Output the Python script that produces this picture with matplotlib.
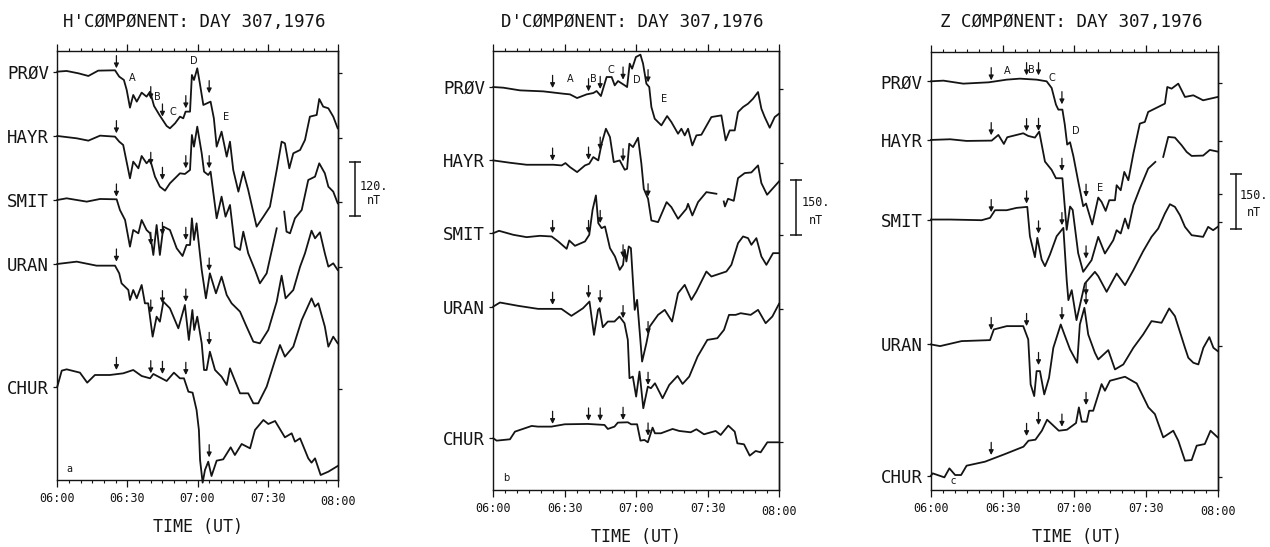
import matplotlib
matplotlib.use('Agg')
import matplotlib.pyplot as plt
import numpy as np

nan = float('nan')

# Time in minutes after 06:00, deflection read off the trace from the station
# baseline. Deflection unit is 1/3 of a picture pixel (rows below use the same unit).
H_PROV_T = [0,4,9,13.3,17.5,24.7,26.5,28.5,29.7,31.1,32.5,34,36.1,38.2,39.7,41.4,43.7,46.8,48.2,50.4,52.5,53.9,54.9,56.8,57.6,58.5,59.9,61,62.5,65.6,67,68.2,70.3,72.5,73.9,75.3,77.5,79.6,81.7,85.3,88.2,91,93.9,96,97.4,99.3,101,103.9,106,108.1,111,112.1,113.8,116,118.1,120]
H_PROV = [0,2,-5,-13,3,4,-15,-25,-55,-108,-70,-90,-63,-75,-60,-103,-130,-163,-170,-155,-135,-140,-120,-120,-10,-25,10,-35,-100,-90,-140,-225,-180,-255,-210,-295,-360,-300,-355,-465,-435,-405,-295,-210,-215,-290,-245,-235,-205,-135,-130,-82,-105,-110,-135,-170]
H_HAYR_T = [0,8.3,13.3,18.3,24.7,26.5,28.2,31.1,32.5,34.7,36.1,38.2,39.7,41.8,43.9,46.1,48.2,52.5,54.6,56.8,57.6,58.5,59.9,61.8,62.8,64.6,65.6,68.2,70.3,72,73.9,76,78.2,79.6,81.7,84.6,86.7,89.6,93.9,94,97,97.1,98.1,99.6,101.7,104.6,107.4,110.3,112.1,114.5,116,118.1,120]
H_HAYR = [0,-7,-14,1,-2,-17,-27,-127,-77,-97,-60,-82,-70,-122,-152,-164,-142,-112,-114,-102,3,-32,28,-52,-107,-117,-107,-247,-182,-242,-207,-332,-342,-287,-352,-402,-442,-412,-277,nan,nan,-227,-287,-292,-247,-222,-132,-122,-82,-112,-152,-167,-202]
H_SMIT_T = [0,4,12.6,18.3,25.4,26.8,29,31.1,32.5,34.7,36.1,38.2,39.7,41.1,42.5,43.9,45.4,48.2,51.1,53.6,55.3,56.8,57.6,58.5,59.6,61.8,63.6,65.3,67.9,70.3,72.5,74.6,78.2,81,83.9,86.7,90.3,93.9,96,97.7,101,103.9,106,108.8,110.3,112.4,114.5,116,118.1,120]
H_SMIT = [0,5,-5,3,2,-30,-60,-140,-90,-100,-60,-90,-100,-165,-75,-165,-80,-90,-145,-168,-135,-135,-55,-120,-70,-210,-295,-220,-280,-230,-285,-310,-335,-380,-425,-430,-390,-305,-227,-295,-270,-200,-160,-92,-115,-97,-160,-200,-190,-210]
H_URAN_T = [0,8.3,16.8,24.7,26.5,27.5,30.4,31.1,32.5,34,36.1,37.5,38.9,40.8,42.5,43.9,45.4,48.2,51.8,54.6,56.3,57.8,58.6,59.9,61.8,62.8,63.9,65.3,67.5,70.3,72.5,73.9,78.2,81.7,83.9,86,89.6,93.2,95.3,97.4,101,104.6,108.8,110.3,111.7,114.5,116,118.1,120]
H_URAN = [0,7,-5,-5,-28,-58,-78,-108,-78,-103,-63,-118,-118,-218,-158,-173,-113,-133,-193,-123,-228,-138,-198,-158,-238,-318,-318,-263,-318,-338,-363,-313,-388,-388,-418,-418,-368,-288,-243,-278,-248,-168,-103,-128,-118,-188,-248,-218,-238]
H_CHUR_T = [0,1.9,4,9.7,12.8,16.1,22.5,28.2,32.5,36.1,39.7,41.1,46.8,49.9,52.5,54.2,56.1,57.9,59.6,60.6,61.1,62.2,63.2,64.6,66,68.2,71,74.2,76,78.9,82.5,84.6,88.2,90.3,93.2,97.4,100.3,101.7,103.9,107.4,108.8,110.3,112.7,116,120]
H_CHUR = [0,48,52,42,12,35,35,40,50,32,25,38,17,42,25,25,-15,-18,-70,-130,-220,-288,-250,-225,-268,-222,-218,-182,-205,-172,-185,-130,-100,-112,-103,-152,-140,-165,-155,-215,-228,-215,-265,-255,-238]

D_PROV_T = [0,4.2,11.2,21,29.4,32.2,35.2,39.2,42,43.4,45.2,47.6,49.7,51,52.4,55.2,56.2,57.3,58.3,59.9,61.8,62.9,64.3,65.5,66.4,67.8,70.6,73,74.8,77.6,79,80.4,81.8,83.6,85.3,87.4,91.6,95.8,97.6,99.3,101.4,102.8,104.9,107,109.1,111.2,112.6,114,116.1,118.2,120]
D_PROV = [0,-2,-10,-13,-20,-22,-33,-22,-18,-12,-27,30,30,5,18,5,0,70,55,90,97,70,10,0,-60,-95,-115,-87,-105,-140,-125,-145,-125,-175,-145,-143,-90,-85,-160,-130,-130,-75,-60,-50,-35,-15,-65,-90,-122,-90,-80]
D_HAYR_T = [0,7,14,25.2,28.7,30.3,32.2,35.2,38.5,40.3,42,44.1,45.5,47.3,49,50.6,53.1,55.2,56.2,57.1,58.7,60.8,62.2,63.2,65,66.4,69.2,72.8,74.8,77.6,81.1,81.8,83.6,86,89.5,93.7,95,96.8,97.3,98.6,101,102.8,105.6,108.4,111.2,112.6,115,117.5,120]
D_HAYR = [0,-7,-13,-13,-15,-8,-20,-35,-15,-10,10,0,50,95,70,-5,0,-28,-25,50,40,68,-10,-85,-115,-180,-185,-125,-140,-175,-145,-130,-165,-125,-95,-100,nan,-123,-138,-115,-121,-53,-38,-36,-15,-68,-103,-83,-63]
D_SMIT_T = [0,2.4,8.4,14,19.6,24.5,27.3,30.8,31.9,34.3,38.5,40.3,41.7,43.1,44.1,45.5,46.9,49,51.1,53.1,54.5,55.2,55.9,56.9,57.8,59.4,60.4,62.5,64.3,65.7,69.2,72,75.1,77.6,80.4,83.2,85.3,89.5,91.6,97.9,100,102.8,104.9,107,108.4,110.5,112.6,114.7,117.5,120]
D_SMIT = [0,7,-5,-12,-8,-10,-25,-47,-22,-38,-25,-5,70,113,30,15,20,-45,-70,-110,-95,-50,-85,-40,-45,-230,-200,-385,-330,-280,-245,-230,-265,-180,-155,-200,-175,-115,-130,-115,-95,-30,-10,-15,-35,-15,-70,-95,-60,-60]
D_URAN_T = [0,2.8,10.5,18.8,28.6,32.8,35.6,37.7,40.4,42.3,44,44.6,46,48.1,50.9,53,55.1,56.5,57.2,58.6,60,61.4,63,64.9,66.2,67.9,71.1,73.9,77.4,79.5,82.3,85.8,89.9,94.1,96.9,99,101.8,103.9,108.1,111.2,114.4,117.2,120]
D_URAN = [0,12,2,-7,-7,-28,-15,-5,15,-85,-10,-5,-62,-45,-45,-30,-50,-100,-215,-210,-270,-195,-305,-240,-245,-230,-275,-235,-208,-232,-210,-150,-100,-95,-70,-25,-25,-20,-25,-10,-50,-30,8]
D_CHUR_T = [0,1.4,7,9.1,16.1,18.8,24.4,30,39.7,46.7,48.1,50.9,52.3,56.5,57.9,60.4,61.8,63.5,64.9,66.9,67.9,70.4,75.3,78.1,82.9,85.3,88.5,93.4,95.5,98.7,101.4,102.5,105.3,107.7,110.2,112.3,115.1,120]
D_CHUR = [0,-7,-3,20,37,35,35,42,43,40,28,35,47,48,42,42,-7,-5,-12,32,15,15,28,22,18,27,12,22,10,38,20,-15,-18,-52,-38,-42,-12,-12]

Z_PROV_T = [0,5.2,13.5,24.2,31.7,37.2,44.2,48.4,50.5,52.3,53.3,55,56,57,58.2,59.6,61.6,63.7,64.9,67.5,70,71.4,73.1,74.6,77,77.7,79.4,80.9,82.6,84.7,87.4,89.5,90.9,95.1,97.9,98.9,100.7,103.5,106.3,109.8,113.9,120]
Z_PROV = [0,2,-7,-3,5,8,5,0,-20,-70,-85,-85,-130,-190,-183,-225,-300,-375,-367,-430,-349,-362,-389,-357,-357,-312,-327,-272,-297,-217,-127,-122,-92,-77,-67,-17,-22,-7,-47,-42,-57,-47]
Z_HAYR_T = [0,8,14.9,25.4,28.2,30.5,31.9,38.6,40.7,43.5,45.3,47.7,50.5,52.3,55,56.8,58.2,59.3,61.6,63.7,67.2,70,72.8,76.3,77.7,79.4,81.2,82.6,84.7,87.4,90.9,93.9,95,97.2,99.3,102.1,104.9,107,109.1,113.9,116.7,120]
Z_HAYR = [0,2,-3,-2,15,-12,8,20,12,7,25,-65,-90,-115,-115,-270,-200,-210,-340,-396,-361,-291,-341,-301,-271,-281,-236,-266,-196,-146,-86,-66,nan,-51,9,7,-16,-36,-48,-47,-30,-35]
Z_SMIT_T = [0,8,21.2,24.7,26.8,31.7,35.8,40.3,41.4,43.5,44.5,46.3,47.7,49.8,52.6,55.4,56.8,57.5,58.9,60.9,64.4,68.6,70,73.5,77.7,81.2,84.7,88.8,92.3,95.1,97.9,100,102.1,104.2,106.3,109.1,113.9,116,118.1,120]
Z_SMIT = [0,0,-2,5,28,28,35,38,-50,-113,-55,-120,-140,-105,-50,-25,-182,-242,-212,-302,-192,-157,-170,-217,-162,-197,-152,-95,-52,-27,18,46,38,13,-22,-47,-52,-22,-32,-22]
Z_URAN_T = [0,3.8,12.8,24.7,26.3,31.7,38.6,40.7,41.7,43.2,44.2,45.6,47.4,49.4,51.2,54.3,56.1,58.2,61.2,62.3,64.2,65.8,68.6,70,74.2,77,80.5,84.7,88.8,92.3,96.5,99.7,102.1,106.3,107.7,109.8,111.9,114,116.5,118.2,120]
Z_URAN = [0,-5,10,13,45,55,55,15,-120,-155,-80,-80,-150,-100,-10,60,25,-15,-55,60,110,30,-25,-45,-17,-75,-60,-10,30,70,65,108,85,-10,-40,-55,-60,-10,22,-10,-20]
Z_CHUR_T = [0,0.7,5.6,7.7,10.1,12.6,14.9,22.6,31,38.7,40.8,43.7,46.4,48.6,53.5,56.9,60.7,61.9,63.1,65.2,66.2,67.9,71.4,72.8,74.9,81.2,86.1,91,93.7,97.2,101.4,103.5,106.3,109.1,111.2,114.6,117,120]
Z_CHUR = [0,7,-5,22,2,2,30,42,65,87,105,108,135,168,135,138,158,205,162,162,195,195,275,255,285,297,277,205,185,115,135,105,45,47,90,95,135,115]

STATIONS = ['PRØV', 'HAYR', 'SMIT', 'URAN', 'CHUR']
TICK_LABELS = ['06:00', '06:30', '07:00', '07:30', '08:00']

# arrow times and the deflection of each arrow tip, one row per station
H_ARROW_T = [25.3, 40, 45, 55, 65]
H_ARROWS = [[10,-83,-135,-110,-65],[8,-87,-132,-97,-97],[10,-135,-105,-120,-212],[7,-146,-118,-113,-243],[50,40,38,35,-212]]
D_ARROW_T = [24.9, 40, 44.9, 54.5, 65]
D_ARROWS = [[-3,-13,-6,22,14],[-1,2,32,-3,-108],[0,0,30,-73,-303],[5,25,10,-35,-235],[43,53,53,55,8]]
Z_ARROW_T = [25.2, 40, 45, 54.8, 64.9]
Z_ARROWS = [[3,18,18,-69,-347],[14,26,27,-93,-356],[22,48,-42,-17,-227],[43,55,-62,73,118],[62,119,152,147,212]]

FONT = 'DejaVu Sans Mono'
INK = '#141414'

panels = [
    dict(box=(57.3, 337.7, 51.3, 480), ylim=(1440, 154),
         traces=[(H_PROV_T,H_PROV),(H_HAYR_T,H_HAYR),(H_SMIT_T,H_SMIT),(H_URAN_T,H_URAN),(H_CHUR_T,H_CHUR)],
         base=[215,408,600,792,1160], right=[220,413,607,800,1167],
         arrow_t=H_ARROW_T, arrows=H_ARROWS,
         letters=[('A',32.2,233),('B',43,292),('C',49.3,335),('D',58.6,183),('E',72.2,350),('a',5,1408)],
         bar=(127.4,487,648), bar_text=('120.',135.5,560,602),
         title="H'CØMPØNENT: DAY 307,1976", title_xy=(194,22), xlabel_xy=(198,527)),
    dict(box=(493.3, 779, 51, 490), ylim=(1470, 154),
         traces=[(D_PROV_T,D_PROV),(D_HAYR_T,D_HAYR),(D_SMIT_T,D_SMIT),(D_URAN_T,D_URAN),(D_CHUR_T,D_CHUR)],
         base=[262,482,700,920,1315], right=[268,490,707,928,1325],
         arrow_t=D_ARROW_T, arrows=D_ARROWS,
         letters=[('A',32.2,238),('B',42.1,237),('C',49.5,212),('D',60.4,240),('E',71.7,297),('b',5.5,1435)],
         bar=(127.3,540,705), bar_text=('150.',135.4,608,663),
         title="D'CØMPØNENT: DAY 307,1976", title_xy=(632,22), xlabel_xy=(636,537)),
    dict(box=(931, 1217.7, 52, 490), ylim=(1470, 155),
         traces=[(Z_PROV_T,Z_PROV),(Z_HAYR_T,Z_HAYR),(Z_SMIT_T,Z_SMIT),(Z_URAN_T,Z_URAN),(Z_CHUR_T,Z_CHUR)],
         base=[243,419,658,1033,1427], right=[248,423,582,665,1039,1432],
         arrow_t=Z_ARROW_T, arrows=Z_ARROWS,
         letters=[('A',32,212),('B',42.2,208),('C',50.6,233),('D',60.5,392),('E',70.7,562),('c',9.1,1443)],
         bar=(127.5,520,685), bar_text=('150.',135.3,585,637),
         title='Z CØMPØNENT: DAY 307,1976', title_xy=(1071,22), xlabel_xy=(1077,537)),
]

W, H = 1270, 547
fig = plt.figure(figsize=(W/100, H/100), dpi=100)

for p in panels:
    x0, x1, y0, y1 = p['box']
    ax = fig.add_axes([x0/W, 1-y1/H, (x1-x0)/W, (y1-y0)/H])
    ax.set_xlim(0, 120)
    ax.set_ylim(*p['ylim'])

    for (t, v), b in zip(p['traces'], p['base']):
        ax.plot(t, b - np.array(v, dtype=float), color=INK, lw=1.3, clip_on=False,
                solid_joinstyle='round')

    # little arrows over each trace
    for row, b in zip(p['arrows'], p['base']):
        for t, d in zip(p['arrow_t'], row):
            ax.annotate('', xy=(t, b-d), xytext=(t, b-d-38),
                        arrowprops=dict(arrowstyle='-|>', color=INK, lw=0.9, mutation_scale=7,
                                        shrinkA=0, shrinkB=0))

    for s, t, r in p['letters']:
        ax.text(t, r, s, fontsize=7, family='DejaVu Sans', ha='center', va='center', color=INK)

    # x axis, ticks on top and bottom
    ax.set_xticks(range(0, 121, 30))
    ax.set_xticks(range(0, 121, 5), minor=True)
    ax.set_xticklabels(TICK_LABELS, family=FONT, fontsize=8.5, color=INK)
    ax.tick_params(axis='x', which='major', top=True, length=5, width=0.9, direction='out', pad=3.5, color=INK)
    ax.tick_params(axis='x', which='minor', top=True, length=2, width=0.8, direction='out', color=INK)
    ax.get_xticklabels()[-1].set_y(-0.008)

    ax.set_yticks(p['base'])
    ax.set_yticklabels(STATIONS, family=FONT, fontsize=12.5, color=INK)
    ax.tick_params(axis='y', length=3, width=0.9, pad=3, color=INK)

    rax = ax.secondary_yaxis('right')
    rax.set_yticks(p['right'])
    rax.set_yticklabels([])
    rax.tick_params(length=3, width=0.9, color=INK)
    rax.spines['right'].set_linewidth(1.0)

    for sp in ax.spines.values():
        sp.set_linewidth(1.0)
        sp.set_color(INK)

    # scale bar
    bx, bt, bb = p['bar']
    ax.plot([bx, bx], [bt, bb], color=INK, lw=1.1, marker='_', ms=8, mew=1.1, clip_on=False)
    lab, tx, r1, r2 = p['bar_text']
    ax.text(tx, r1, lab, family=FONT, fontsize=8.5, ha='center', va='center', color=INK)
    ax.text(tx, r2, 'nT', family=FONT, fontsize=8.5, ha='center', va='center', color=INK)

    fig.text(p['title_xy'][0]/W, 1-p['title_xy'][1]/H, p['title'], family=FONT, fontsize=12.6,
             ha='center', va='center', color=INK)
    fig.text(p['xlabel_xy'][0]/W, 1-p['xlabel_xy'][1]/H, 'TIME (UT)', family=FONT, fontsize=12,
             ha='center', va='center', color=INK)

fig.savefig('out.png', dpi=100)
